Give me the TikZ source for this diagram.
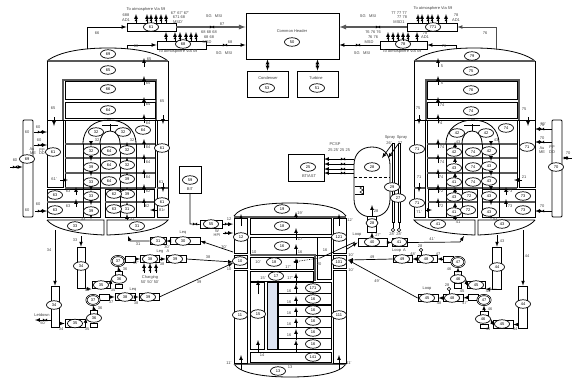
\documentclass[tikz,border=0pt]{standalone}
\usepackage{fontspec}
\setmainfont{Liberation Sans}
\usetikzlibrary{shapes.geometric}
\definecolor{coreblue}{HTML}{DDE4F2}
\newcommand{\tinyfont}{\fontsize{4}{4.4}\selectfont}
\tikzstyle{volnode}=[ellipse, draw, fill=white, inner sep=0pt, minimum width=15bp, minimum height=8.5bp, line width=.7pt, font=\tinyfont]
\tikzstyle{pumpnode}=[volnode, minimum width=13bp, minimum height=10bp, double, double distance=.5pt]
\tikzstyle{lab}=[inner sep=0pt, font=\tinyfont, text=black!75]
\tikzstyle{wall}=[line width=.8pt]
\tikzstyle{heavy}=[line width=1.3pt, black!65]
\tikzstyle{pipe}=[line width=.7pt, -latex]
\tikzstyle{trainbox}=[rectangle, draw, fill=white, line width=.7pt, inner sep=0pt, minimum height=7.5bp]
\tikzstyle{hbox}=[rectangle, draw, fill=white, line width=.9pt, inner sep=0pt]
\tikzset{valve/.pic={\fill (-2.2,-1.5)--(2.2,1.5)--(2.2,-1.5)--(-2.2,1.5)--cycle;}}
% one steam generator, drawn for the left side and mirrored for the right
\newcommand{\sgbody}{
	\draw[wall] (47,61) .. controls (60,51) and (85,48) .. (108,48) .. controls (131,48) and (155,51) .. (168,61);
	\draw[heavy] (47,61) -- (168,61);
	\draw[wall] (47,61) -- (47,120) (168,61) -- (168,120);
	\draw[heavy] (63,120) -- (63,80) -- (156,80) -- (156,120);
	\draw[wall] (65,81) rectangle (155,99);
	\draw[wall] (65,102) rectangle (155,118);
	\draw[wall] (47,120) -- (168,120);
	\draw[wall] (47,120) rectangle (63,187);
	\draw[wall] (47,189) rectangle (100,217);
	\draw[wall] (105,189) rectangle (154,217);
	\draw[wall] (157,120) rectangle (168,217);
	\draw[heavy] (157,188) -- (168,188);
	\draw[wall] (65,120) -- (65,188) (155,120) -- (155,188);
	\foreach \yy in {144,158,173,188}{\draw[heavy] (65,\yy) -- (155,\yy);}
	\draw[heavy] (47,202) -- (100,202) (105,202) -- (154,202);
	\foreach \xx in {83,100,120,136}{\draw[wall] (\xx,144) -- (\xx,217);}
	\draw[wall] (83,144) .. controls (83,128) and (95,120) .. (109,120) .. controls (123,120) and (136,128) .. (136,144);
	\draw[wall] (100,144) .. controls (100,136) and (104,131) .. (110,131) .. controls (116,131) and (120,136) .. (120,144);
	\draw[wall] (110,124) -- (110,131) (102,125) -- (118,125);
	\draw[wall] (47,220) -- (104,220) -- (104,235) .. controls (80,234) and (55,230) .. (47,220);
	\draw[wall] (107,220) -- (168,220) .. controls (160,230) and (135,234) .. (107,235) -- cycle;
	\foreach \yy in {67,85,106,123,148,163,178,193,207}{\draw[pipe] (144,\yy) -- (144,\yy-9);}
	\foreach \yy in {195,207}{\draw[pipe] (76,\yy) -- (76,\yy-8);}
	\foreach \yy in {146,161,176,191,205,219}{\draw[pipe] (91,\yy-5) -- (91,\yy);}
	\foreach \yy in {148,163,178,193,208,220}{\draw[pipe] (127,\yy) -- (127,\yy-6);}
	\draw[pipe] (54,117) -- (54,126);
	\draw[pipe] (163,115) -- (163,124);
	\draw[pipe] (163,183) -- (163,192);
	\draw[pipe] (60,180) -- (68,180);
	\draw[pipe] (157,210) -- (150,210);
}
\begin{document}
\begin{tikzpicture}[x=1bp,y=-1bp]
\useasboundingbox (0,0) rectangle (572,377);
\sgbody
\begin{scope}[xshift=582bp,xscale=-1]
\sgbody
\end{scope}

% steam generator volumes
\foreach \px/\py/\txt [count=\i] in {108/54/69,108/70/65,108/89/66,108/110/64,96/132/32,123/132/32,143/130/64,53/152/61,162/148/61,162/202/61,91/151/32,109/151/64,127/150/32,91/167/39,109/165/64,127/165/32,91/182/33,109/181/64,127/179/39,91/196/33,127/194/39,114/194/62,55/195/63,91/211/39,127/209/31,114/209/63,55/210/63,75/226/33,137/226/31,
472/56/79,471/71/75,471/90/76,471/111/74,457/133/42,486/133/42,506/128/74,417/149/71,527/147/71,417/203/71,454/152/42,473/152/74,489/151/42,454/168/43,473/167/74,489/166/43,454/182/41,473/182/74,489/181/43,454/197/43,469/196/72,489/196/43,523/196/73,454/212/41,468/210/72,489/212/43,523/210/73,438/224/41,502/224/43}{
	\node[volnode] (sg\i) at (\px,\py) {\txt};
}

% separators and common header
\node[hbox, minimum width=49bp, minimum height=8bp] (sepa) at (151.5,27) {};
\node[hbox, minimum width=49bp, minimum height=8bp] (sepb) at (181.5,45) {};
\node[hbox, minimum width=50bp, minimum height=8bp] (sepc) at (432,27) {};
\node[hbox, minimum width=47bp, minimum height=8bp] (sepd) at (403.5,45) {};
\node[volnode] (va) at (151,27) {61};
\node[volnode] (vb) at (183,44) {68};
\node[volnode] (vc) at (433,27) {771};
\node[volnode] (vd) at (403,44) {78};
\node[hbox, minimum width=93bp, minimum height=46bp] (header) at (292.5,36) {};
\node[lab] (headertxt) at (292,31) {Common Header};
\node[volnode] (hv) at (292,42) {50};
\node[hbox, minimum width=41bp, minimum height=26bp] (cond) at (267.5,84) {};
\node[lab] (condtxt) at (268,78) {Condenser};
\node[volnode] (cv) at (267,88) {53};
\node[hbox, minimum width=41bp, minimum height=26bp] (turb) at (317.5,84) {};
\node[lab] (turbtxt) at (316,78) {Turbine};
\node[volnode] (tv) at (317,88) {51};

\coordinate (dl) at (87,49);
\coordinate (dlb) at (127,49);
\coordinate (dr) at (496,50);
\coordinate (drb) at (456,49);
\draw[pipe] (dl) |- (sepa.west);
\draw[pipe] (dlb) |- (sepb.west);
\draw[pipe, black!70] (dr) |- (sepc.east);
\draw[pipe] (drb) |- (sepd.east);
\draw[heavy, -latex] (sepa.east) -- (header.west |- sepa.east);
\draw[pipe] (sepb.east) -- (header.west |- sepb.east);
\draw[heavy, -latex] (sepc.west) -- (header.east |- sepc.west);
\draw[pipe] (sepd.west) -- (header.east |- sepd.west);
\pic at (212,27) {valve};
\pic at (225,45) {valve};
\pic at (378,27) {valve};
\pic at (358,45) {valve};
\draw[pipe, latex-latex] (cond.north) -- (header.south -| cond.north);
\draw[pipe, latex-latex] (turb.north) -- (header.south -| turb.north);
\pic[rotate=90] at (268,65) {valve};
\pic[rotate=90] at (317,65) {valve};
\foreach \xx in {136,147,151,156,161,166,418,422,428,432,438,446}{
	\draw[pipe] (\xx,23) -- (\xx,14);
	\pic[rotate=90] at (\xx,19) {valve};
}
\foreach \xx in {166,175,180,186,191,196,388,393,398,403,408,417}{
	\draw[pipe] (\xx,41) -- (\xx,32);
	\pic[rotate=90] at (\xx,37) {valve};
}

% feedwater columns
\node[hbox, minimum width=10bp, minimum height=97bp, rounded corners=1pt] (fwl) at (28,168.5) {};
\node[hbox, minimum width=10bp, minimum height=97bp, rounded corners=1pt] (fwr) at (557,168.5) {};
\node[volnode] (fwlv) at (27,159) {69};
\node[volnode] (fwrv) at (556,167) {70};
\coordinate (fwla) at (10,167);
\coordinate (fwlb) at (34,132);
\coordinate (fwlc) at (34,145);
\coordinate (fwld) at (35,211);
\coordinate (sgla) at (47,132);
\coordinate (sglb) at (47,145);
\coordinate (sglc) at (47,211);
\coordinate (fwra) at (572,158);
\coordinate (fwrb) at (552,129);
\coordinate (fwrc) at (552,142);
\coordinate (fwrd) at (552,211);
\coordinate (sgra) at (535,129);
\coordinate (sgrb) at (535,142);
\coordinate (sgrc) at (535,211);
\draw[pipe] (fwla) -- (fwl.west |- fwla);
\draw[pipe] (fwlb) -- (sgla);
\draw[pipe] (fwlc) -- (sglb);
\draw[pipe] (fwld) -- (sglc);
\draw[pipe] (fwra) -- (fwr.east |- fwra);
\draw[pipe] (fwrb) -- (sgra);
\draw[pipe] (fwrc) -- (sgrb);
\draw[pipe] (fwrd) -- (sgrc);
\foreach \px/\py in {15/167,40/132,40/145,40/211,566/158,542/129,542/142,542/211}{\pic at (\px,\py) {valve};}

% reactor vessel
\draw[wall] (234,216) .. controls (240,207) and (262,203) .. (290,203) .. controls (318,203) and (340,207) .. (346,216);
\draw[wall] (234,364) .. controls (240,373) and (262,377) .. (290,377) .. controls (318,377) and (340,373) .. (346,364);
\draw[heavy] (234,217) -- (346,217) (234,364) -- (346,364);
\foreach \xa in {234,333}{
	\draw[wall] (\xa,218) rectangle (\xa+13,253);
	\draw[wall] (\xa,255) rectangle (\xa+13,268);
	\draw[wall] (\xa,270) rectangle (\xa+13,363);
}
\draw[wall] (250,218) rectangle (331,234);
\draw[wall] (250,237) rectangle (331,255);
\draw[heavy] (250,255) -- (315,255) -- (315,281);
\draw[wall] (250,257) rectangle (313,269);
\draw[wall] (250,271) rectangle (313,281);
\draw[wall] (317,237) rectangle (331,279);
\draw[wall] (250,282) rectangle (264,349);
\draw[wall, fill=coreblue] (267,282) rectangle (277,349);
\foreach \yy in {282,293,305,316,327,338}{\draw[wall] (278,\yy) rectangle (331,\yy+11);}
\draw[wall] (250,352) rectangle (331,362);
\foreach \px/\py/\txt [count=\i] in {282/209/19,282/226/18,282/246/16,274/262/18,276/276/17,313/288/171,313/299/16,313/310/16,313/321/16,313/332/16,313/344/16,313/357/141,258/314/15,241/237/12,339/237/121,240/261/10,339/262/101,240/315/11,339/315/111,278/371/13}{
	\node[volnode] (rv\i) at (\px,\py) {\txt};
}
\foreach \ya/\yb in {218/212,240/228,255/244,270/258,285/273,294/284,305/296,317/307,327/318,340/329,352/340}{
	\draw[pipe] (296,\ya) -- (296,\yb);
}
\foreach \xx/\ya/\yb in {241/226/214,339/226/214,241/370/355,339/370/355,258/294/280,258/353/340}{
	\draw[pipe] (\xx,\ya) -- (\xx,\yb);
}
\coordinate (rvin) at (293,262);
\coordinate (rvmid) at (320,258);
\coordinate (rvout) at (355,242);
\draw[pipe, densely dotted, latex-] (rvin) -- (rvmid);
\draw[line width=.7pt] (rvmid) -- (rvout);

% BIT and HPI
\node[hbox, minimum width=22bp, minimum height=27bp] (bit) at (190,179.5) {};
\node[volnode] (bitv) at (190,180) {59};
\node[lab] (bittxt) at (190,189) {BIT};
\node[trainbox, minimum width=22bp] (hpibox) at (211,224.5) {};
\node[volnode] (hpiv) at (211,224) {55};
\coordinate (bitc) at (190,224);
\coordinate (hpia) at (233,224);
\coordinate (hpib) at (233,233);
\coordinate (hpic) at (223,233);
\draw[pipe, -] (bit.south) -- (bitc) -- (hpibox.west);
\draw[pipe] (hpibox.east) -- (hpia);
\draw[pipe] (hpic) -- (hpib);
\foreach \px/\py in {195/224,227/224,227/233}{\pic at (\px,\py) {valve};}

% pressurizer
\node[hbox, minimum width=36bp, minimum height=27bp] (bwst) at (306,167.5) {};
\node[volnode] (bwstv) at (308,167) {25};
\node[lab] (bwsttxt) at (309,176) {BT/AST};
\draw[wall] (354,165) .. controls (354,153) and (362,147) .. (372,147) .. controls (382,147) and (390,153) .. (390,165) -- (390,199) .. controls (390,211) and (382,217) .. (372,217) .. controls (362,217) and (354,211) .. (354,199) -- cycle;
\draw[line width=.5pt, densely dashed] (354,177) -- (390,177);
\node[volnode] (przv) at (372,167) {28};
\draw[wall] (355,186) -- (363,186) -- (363,194) -- (355,194);
\draw[line width=.5pt] (363,186) -- (360,188) -- (363,190) -- (360,192) -- (363,194);
\foreach \yy in {159,164,169,173}{
	\coordinate (bwl\yy) at (324,\yy);
	\draw[pipe] (354,\yy) -- (bwl\yy);
	\pic at (343,\yy) {valve};
}
\node[trainbox, minimum width=9bp, minimum height=16bp] (surge) at (372,224) {};
\node[volnode, minimum width=12bp] (surgev) at (372,223) {28};
\coordinate (przl) at (372,239);
\draw[pipe] (surge.north) -- (372,205);
\draw[pipe] (przl) -- (surge.south);
\foreach \xa/\xs in {392/385,398/391}{
	\draw[wall] (\xa,143) rectangle (\xa+2.5,222);
	\draw[pipe] (\xa+1,143) -- (\xs-3,158);
	\draw[wall] (\xa+1,222) -- (\xa+1,228);
	\draw[line width=.5pt, fill=white] (\xa+1,230) circle (1.7);
}
\node[volnode] (spa) at (392,187) {29};
\node[volnode] (spb) at (398,198) {27};

% loop A, left
\node[trainbox, minimum width=8bp, minimum height=41bp] (cola) at (81,267.5) {};
\node[volnode] (colav) at (81,266) {34};
\node[trainbox, minimum width=8bp, minimum height=41bp] (colb) at (55,306.5) {};
\node[volnode] (colbv) at (54,305) {34};
\coordinate (plena) at (81,236);
\coordinate (plenb) at (55,230);
\draw[pipe] (plena) -- (cola.north);
\draw[pipe] (plenb) -- (colb.north);
\node[trainbox, minimum width=18bp] (ta) at (101,285) {};
\node[volnode] (tav) at (101,285) {35};
\draw[pipe] (cola.south) -- (ta.south west);
\node[trainbox, minimum width=7bp, minimum height=4bp] (pta) at (119,273) {};
\node[trainbox, minimum width=7bp, minimum height=4bp] (pba) at (119,286) {};
\node[volnode] (pav) at (119,279) {36};
\draw[pipe] (ta.east) -- (pav.west);
\node[trainbox, minimum width=10bp, minimum height=6bp] (ga) at (130,259) {};
\node[pumpnode] (gav) at (118,261) {37};
\draw[pipe] (pta.north) -- (gav.south);
\node[trainbox, minimum width=19bp] (tb) at (150,259) {};
\node[volnode] (tbv) at (150,259) {38};
\node[trainbox, minimum width=20bp] (tc) at (176,259) {};
\node[volnode] (tcv) at (175,259) {39};
\draw[pipe] (ga.east) -- (tb.west);
\draw[pipe] (tb.east) -- (tc.west);
\coordinate (rla) at (233,262);
\coordinate (rlb) at (233,252);
\coordinate (rlc) at (233,263);
\draw[pipe] (tc.east) -- (rla);
\node[trainbox, minimum width=16bp] (td) at (158,241) {};
\node[volnode] (tdv) at (158,241) {31};
\node[trainbox, minimum width=30bp] (te) at (185,241) {};
\node[volnode] (tev) at (183,241) {30};
\draw[pipe] (te.west) -- (td.east);
\coordinate (lega) at (128,236);
\draw[pipe] (td.west) -- (130,241) -- (lega);
\draw[pipe] (rlb) -- (te.east);
\foreach \xx in {144,150,156}{
	\coordinate (ch\xx) at (\xx,273);
	\draw[pipe] (ch\xx) -- (\xx,263);
	\pic[rotate=90] at (\xx,269) {valve};
}
\node[trainbox, minimum width=20bp] (tf) at (75,323.5) {};
\node[volnode] (tfv) at (75,323.5) {35};
\draw[pipe] (colb.east |- tf.west) -- (tf.west);
\node[trainbox, minimum width=7bp, minimum height=4bp] (ptb) at (94,312) {};
\node[trainbox, minimum width=7bp, minimum height=4bp] (pbb) at (94,325) {};
\node[volnode] (pbv) at (94,318) {36};
\draw[pipe] (tf.east) -- (pbv.west);
\node[trainbox, minimum width=10bp, minimum height=6bp] (gb) at (104,297) {};
\node[pumpnode] (gbv) at (93,300) {37};
\draw[pipe] (ptb.north) -- (gbv.south);
\node[trainbox, minimum width=20bp] (tg) at (125,297) {};
\node[volnode] (tgv) at (125,297) {38};
\node[trainbox, minimum width=20bp] (th) at (149,297) {};
\node[volnode] (thv) at (148,297) {39};
\draw[pipe] (gb.east) -- (tg.west);
\draw[pipe] (tg.east) -- (th.west);
\draw[pipe] (th.east) -- (rlc);
\coordinate (letd) at (35,320);
\draw[pipe] (colb.west |- letd) -- (letd);
\pic at (45,320) {valve};

% loop B, right
\node[trainbox, minimum width=29bp] (ra) at (372.5,242.5) {};
\node[volnode] (rav) at (372,242) {40};
\node[trainbox, minimum width=15bp] (rb) at (399.5,242.5) {};
\node[volnode] (rbv) at (399,242) {41};
\draw[pipe] (ra.east) -- (rb.west);
\coordinate (legb) at (464,236);
\draw[pipe] (rb.east) -- (460,242) -- (legb);
\coordinate (rra) at (347,249);
\coordinate (rrb) at (348,260);
\draw[pipe] (rra) -- (ra.west);
\node[trainbox, minimum width=9bp, minimum height=42bp] (colc) at (497,268) {};
\node[volnode] (colcv) at (497,267) {44};
\node[trainbox, minimum width=9bp, minimum height=42bp] (cold) at (523,307) {};
\node[volnode] (coldv) at (523,304) {44};
\coordinate (plenc) at (497,235);
\coordinate (plend) at (523,230);
\draw[pipe] (plenc) -- (colc.north);
\draw[pipe] (plend) -- (cold.north);
\node[trainbox, minimum width=18bp] (rc) at (476,285) {};
\node[volnode] (rcv) at (476,285) {45};
\draw[pipe] (colc.south) -- (rc.south east);
\node[trainbox, minimum width=7bp, minimum height=4bp] (ptc) at (458,273) {};
\node[trainbox, minimum width=7bp, minimum height=5bp] (pbc) at (458,286) {};
\node[volnode] (pcv) at (458,279) {46};
\draw[pipe] (rc.west) -- (pcv.east);
\node[trainbox, minimum width=10bp, minimum height=6bp] (gc) at (448,259) {};
\node[pumpnode] (gcv) at (458,262) {47};
\draw[pipe] (ptc.north) -- (gcv.south);
\node[trainbox, minimum width=20bp] (rd) at (427,259) {};
\node[volnode] (rdv) at (426,259) {48};
\node[trainbox, minimum width=19bp] (re) at (402.5,259) {};
\node[volnode] (rev) at (402,259) {49};
\draw[pipe] (gc.west) -- (rd.east);
\draw[pipe] (rd.west) -- (re.east);
\draw[pipe] (re.west) -- (rrb);
\node[trainbox, minimum width=20bp] (rf) at (503,324.5) {};
\node[volnode] (rfv) at (502,324) {45};
\draw[pipe] (cold.west |- rf.east) -- (rf.east);
\node[trainbox, minimum width=8bp, minimum height=4bp] (ptd) at (484,313) {};
\node[trainbox, minimum width=8bp, minimum height=4bp] (pbd) at (484,326) {};
\node[volnode] (pdv) at (483,319) {46};
\draw[pipe] (rf.west) -- (pdv.east);
\node[trainbox, minimum width=10bp, minimum height=6bp] (gd) at (473,297.5) {};
\node[pumpnode] (gdv) at (484,300) {47};
\draw[pipe] (ptd.north) -- (gdv.south);
\node[trainbox, minimum width=20bp] (rg) at (453,298) {};
\node[volnode] (rgv) at (452,298) {48};
\node[trainbox, minimum width=20bp] (rh) at (428,298) {};
\node[volnode] (rhv) at (427,298) {45};
\draw[pipe] (gd.west) -- (rg.east);
\draw[pipe] (rg.west) -- (rh.east);
\draw[pipe] (rh.west) -- (rrb);
\foreach \px/\py/\pe in {421/250/255,449/289/294}{
	\draw[line width=.5pt] (\px,\py) -- (\px,\pe);
	\draw[line width=.5pt, fill=white] (\px,\py) circle (1.7);
}

% labels
\foreach \px/\py/\txt [count=\i] in {
146/9/To atmosphere Via 59,126/15/688,126/20/AD1,180/13/67' 67' 67',179/17/671 68,178/22/MSD',178/51/To atmosphere Via 59,97/33/66,136/46/66,
149/59/65,148/83/65,162/101/65,53/108/65,148/104/64,148/123/64,148/147/64,148/162/64,148/177/64,148/191/62,147/206/62,
214/16/SG\ \ \ MSI,222/24/87,224/53/SG\ \ \ MSI,230/42/68,209/32/68 68 68,209/37/68 68,207/42/MSD,
368/16/SG\ \ \ MSI,373/32/76 76 76,373/37/76 76,369/42/MSD,362/53/SG\ \ \ MSI,
433/8/To atmosphere Via 59,399/13/77 77 77,402/17/77 78,399/22/MSD1,456/15/78,456/20/AD1,425/33/78,425/37/AD1,402/51/To atmosphere Via 59,485/33/76,444/46/76,
442/66/5,442/83/5,442/105/74,418/108/75,524/109/75,440/123/74,543/124/70',
38/127/60,39/140/60,27/132/60,27/210/60,15/160/60,32/149/Au,33/153/ME,42/150/PP,42/153/DD,38/204/60,
54/179/61',68/191/63,68/206/63,161/182/61,162/210/81r,83/219/33,132/219/31,97/140/32,132/140/32,
542/125/70,542/138/70,542/148/Au,542/152/ME,552/147/PP,552/152/DD,568/153/70,542/206/70,
419/177/71,524/177/21,419/212/71',441/191/72,441/206/72,510/191/73,510/206/73,442/147/74,442/162/74,441/177/74,496/140/43,458/142/43,458/222/41,495/219/43,
335/144/PCSP,339/150/25\ 25'\ 25\ 25,390/138/Spray,402/138/Spray,389/143/26',400/143/27,392/234/28',399/234/28',376/211/28,
229/219/12,350/220/12',217/231/W,217/235/HPI,
49/250/34,75/240/33,183/233/Leq,138/244/31,167/247/30',163/252/Leg\ \ \ A,125/269/36,136/263/37',162/264/38,150/277/Charging,150/282/50'\ 50'\ 50',208/257/38,224/247/30',199/282/39,
113/290/35,87/290/34,133/290/Leq,111/302/37,136/303/38,100/308/36,61/329/34,87/329/35,42/315/Letdown,43/323/50',
357/235/Loop,378/235/27',432/239/41',502/241/43,527/256/44,399/251/Loop\ \ A,413/254/48',438/254/47,420/246/28,372/257/49,449/269/46,462/291/45,488/291/44,447/285/28,377/281/49',427/289/Loop,439/303/48,465/303/47',490/309/46,488/329/45,515/329/44,
300/213/19',300/239/17,300/252/16,325/250/16,288/267/17',319/264/20,290/278/17',263/278/15',289/291/16,289/302/16,289/313/16,289/324/16,289/335/16,262/355/14,229/363/11',349/363/11',290/367/13,254/252/10,258/262/10',229/269/10,351/255/10',351/270/10'}{
	\node[lab] (lb\i) at (\px,\py) {\txt};
}
\end{tikzpicture}
\end{document}
